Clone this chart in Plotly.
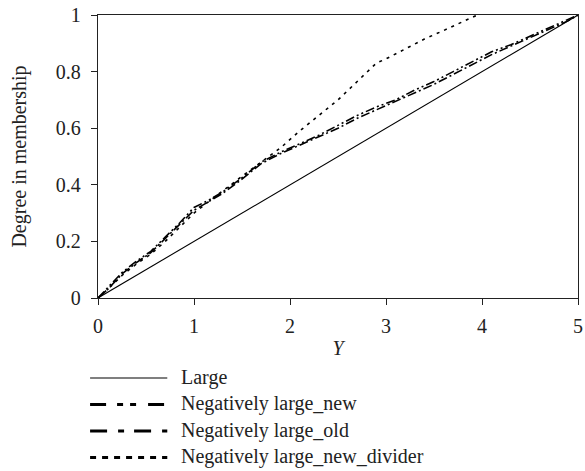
import plotly.graph_objects as go

# ---- data ----
x_large = [0, 5]
y_large = [0, 1]

x_neg = [0, 0.1, 0.25, 0.4, 0.55, 0.7, 0.85, 1.0, 1.15, 1.3, 1.5, 1.7, 1.9, 2.1, 2.3,
         2.5, 2.7, 2.9, 3.1, 3.3, 3.5, 3.7, 3.9, 4.1, 4.3, 4.5, 4.7, 4.9, 5.0]
y_new = [0, 0.035, 0.09, 0.13, 0.165, 0.215, 0.265, 0.32, 0.345, 0.375, 0.425, 0.48, 0.515,
         0.545, 0.575, 0.61, 0.645, 0.675, 0.70, 0.735, 0.765, 0.80, 0.835, 0.87, 0.895,
         0.925, 0.955, 0.985, 1.0]
y_old = [0, 0.03, 0.085, 0.125, 0.16, 0.21, 0.26, 0.31, 0.34, 0.37, 0.42, 0.475, 0.51,
         0.54, 0.57, 0.60, 0.635, 0.665, 0.695, 0.725, 0.755, 0.79, 0.825, 0.86, 0.89,
         0.92, 0.95, 0.98, 1.0]

x_div = [0, 0.1, 0.25, 0.4, 0.55, 0.7, 0.85, 1.0, 1.15, 1.3, 1.5, 1.7, 1.9, 2.1, 2.3,
         2.5, 2.7, 2.9, 3.0, 3.2, 3.4, 3.6, 3.8, 3.95]
y_div = [0, 0.03, 0.08, 0.12, 0.155, 0.2, 0.25, 0.3, 0.34, 0.38, 0.43, 0.48, 0.53, 0.59,
         0.645, 0.70, 0.765, 0.83, 0.845, 0.88, 0.915, 0.945, 0.975, 1.0]

series_names = ["Large", "Negatively large_new", "Negatively large_old",
                "Negatively large_new_divider"]
x_ticks = [0, 1, 2, 3, 4, 5]
y_ticks = [0, 0.2, 0.4, 0.6, 0.8, 1]
y_tick_text = ["0", "0.2", "0.4", "0.6", "0.8", "1"]

# ---- styles ----
FONT = "Liberation Serif"
TXT = "#222222"
FS = 20
plot_dash = ["solid", "9px,3px,2px,3px,2px,3px", "9px,3px,2px,3px", "3px,5px"]
plot_width = [1.1, 1.6, 1.6, 1.6]
legend_dash = ["solid", "16px,11px,6px,7px,6px,12px", "17px,11px,6px,10px", "6px,6px"]
legend_width = [1.2, 3, 3, 3]

xs = [x_large, x_neg, x_neg, x_div]
ys = [y_large, y_new, y_old, y_div]

fig = go.Figure()
for i in range(4):
    fig.add_trace(go.Scatter(x=xs[i], y=ys[i], mode="lines", name=series_names[i],
                             line=dict(color="black", width=plot_width[i], dash=plot_dash[i]),
                             showlegend=False))

# manual legend below the chart (paper coords: x0=98px, width 485px; y0=298px, height 283px)
L, W, T, H = 98, 485, 15, 283
def px_x(p):
    return (p - L) / W
def px_y(p):
    return (T + H - p) / H

legend_rows = [378, 404.5, 431, 457.5]
shapes = []
annotations = []
for i, ry in enumerate(legend_rows):
    shapes.append(dict(type="line", xref="paper", yref="paper",
                       x0=px_x(90), x1=px_x(168), y0=px_y(ry), y1=px_y(ry),
                       line=dict(color="black", width=legend_width[i], dash=legend_dash[i])))
    annotations.append(dict(xref="paper", yref="paper", x=px_x(180), y=px_y(ry - 1),
                            text=series_names[i], showarrow=False, xanchor="left",
                            yanchor="middle", font=dict(family=FONT, size=FS, color=TXT)))

fig.update_layout(
    width=585, height=471,
    margin=dict(l=L, r=585 - L - W, t=T, b=471 - T - H),
    paper_bgcolor="white", plot_bgcolor="white",
    font=dict(family=FONT, size=FS, color=TXT),
    shapes=shapes, annotations=annotations,
    showlegend=False,
)
fig.update_xaxes(range=[0, 5], tickvals=x_ticks, showgrid=False, zeroline=False,
                 showline=True, linecolor="#222", linewidth=1.3, mirror=True,
                 ticks="outside", ticklen=6, tickcolor="#222", tickwidth=1.3,
                 ticklabeloverflow="allow", ticklabelstandoff=4,
                 tickfont=dict(family=FONT, size=FS),
                 title=dict(text="<i>Y</i>", standoff=4, font=dict(family=FONT, size=FS)))
fig.update_yaxes(range=[0, 1], tickvals=y_ticks, ticktext=y_tick_text, showgrid=False,
                 zeroline=False, showline=True, linecolor="#222", linewidth=1.3, mirror=True,
                 ticks="outside", ticklen=6, tickcolor="#222", tickwidth=1.3,
                 ticklabelstandoff=6, tickfont=dict(family=FONT, size=FS),
                 title=dict(text="Degree in membership", standoff=23,
                            font=dict(family=FONT, size=FS)))

fig.write_html("out.html")
